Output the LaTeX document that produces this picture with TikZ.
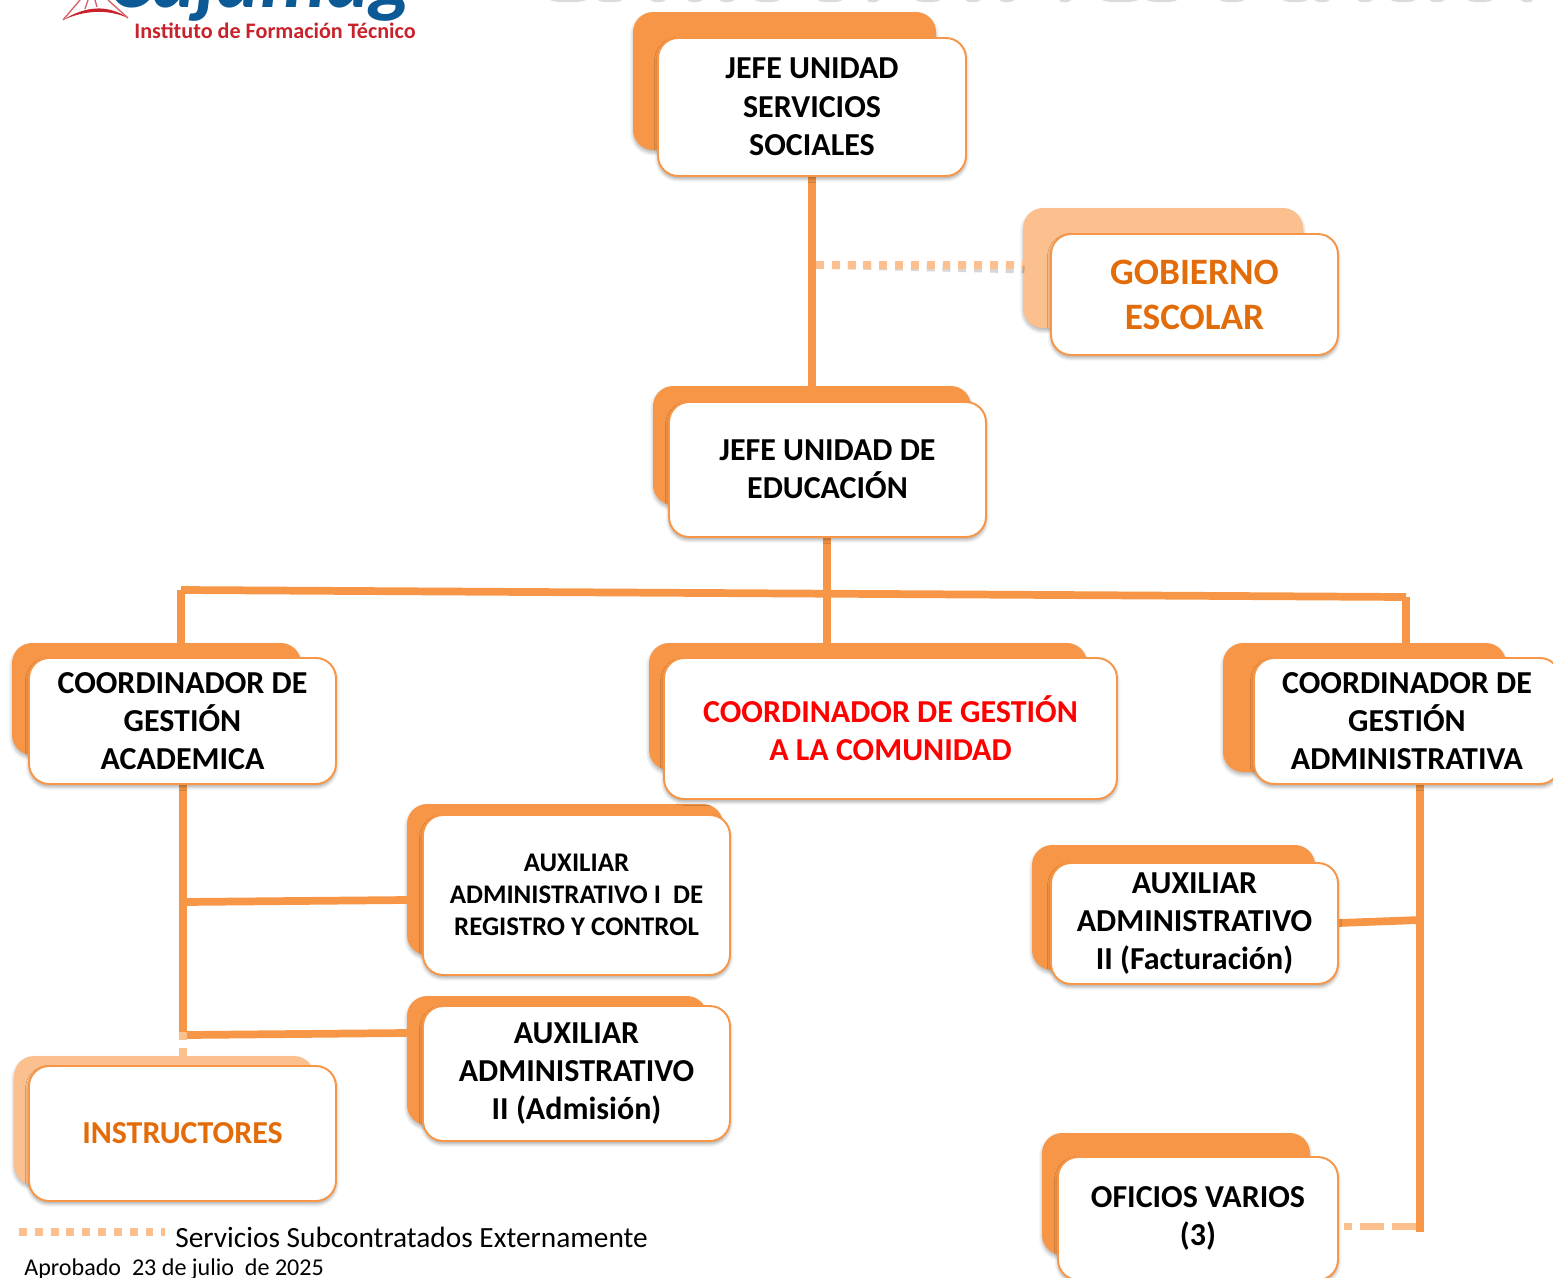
\documentclass[tikz,border=0pt]{standalone}
\usepackage{fontspec}
\setmainfont{Carlito}
\usetikzlibrary{shadows.blur}
\definecolor{linea}{HTML}{F79646}
\definecolor{claro}{HTML}{FBC08E}
\definecolor{naranja}{HTML}{E36C0A}
\definecolor{rojologo}{HTML}{C8232C}
\definecolor{azullogo}{HTML}{0B5A96}
\tikzset{
    cargo/.style={draw=linea, fill=white, rounded corners=11.5pt, line width=1.1pt, align=center,
        font=\fontsize{18.2}{21.8}\selectfont\bfseries, inner sep=0pt,
        blur shadow={shadow xshift=0pt, shadow yshift=-1.6pt, shadow blur radius=2pt, shadow opacity=35, shadow blur steps=6}},
    fondo/.style={fill=linea, rounded corners=11.5pt, inner sep=0pt,
        blur shadow={shadow xshift=0pt, shadow yshift=-1.6pt, shadow blur radius=2pt, shadow opacity=30, shadow blur steps=6}},
    fondoclaro/.style={fondo, fill=claro},
    enlace/.style={draw=linea, line width=4.4pt},
    externo/.style={draw=claro, line width=4.4pt, dash pattern=on 4.5pt off 4.5pt},
}
% caja de x1 y1 a x2 y2 en pixeles
\newcommand{\caja}[6][cargo]{\node[#1, minimum width=#4*0.2mm-#2*0.2mm, minimum height=#5*0.2mm-#3*0.2mm] (#6) at ({(#2+#4)/2},{(#3+#5)/2})}
\begin{document}
\begin{tikzpicture}[x=0.2mm, y=-0.2mm]
\useasboundingbox (0,0) rectangle (1553,1277);
\clip (0,0) rectangle (1553,1277);

% === ENCABEZADO ===
% restos del titulo cortado arriba
\foreach \x/\w in {568/35, 610/24, 658/14, 695/14, 727/14, 767/24, 830/24, 873/12, 928/24, 973/14, 1007/14,
        1065/12, 1120/35, 1162/30, 1232/24, 1295/24, 1322/14, 1365/14, 1403/24, 1437/14, 1480/24, 1527/12} {
    \fill[black!14] (\x,0) ellipse ({\w/2} and 2.2);
}
\node[text=azullogo, font=\fontsize{46.7}{46.7}\selectfont\bfseries\itshape, anchor=base east, inner sep=0pt] (marca) at (413,7) {Cajamag};
\node[text=rojologo, font=\fontsize{12.6}{12.6}\selectfont\bfseries] (instituto) at (275,31) {Instituto de Formación Técnico};
\fill[rojologo] (63,20) .. controls (85,6) and (108,4) .. (128,18) .. controls (108,9) and (85,10) .. (63,20) -- cycle;
\draw[rojologo!70, line width=0.8pt] (63,20) -- (80,0) (128,18) -- (108,0) (85,9) -- (88,0) (97,7) -- (95,0);

% === CAJAS DE FONDO ===
\caja[fondo]{633}{12}{936}{150}{fservicios} {};
\caja[fondoclaro]{1023}{208}{1303}{328}{fgobierno} {};
\caja[fondo]{653}{386}{971}{505}{feducacion} {};
\caja[fondo]{12}{643}{301}{755}{facademica} {};
\caja[fondo]{649}{643}{1087}{770}{fcomunidad} {};
\caja[fondo]{1223}{643}{1506}{772}{fadministrativa} {};
\caja[fondo]{407}{804}{723}{955}{fregistro} {};
\caja[fondo]{407}{996}{707}{1125}{fadmision} {};
\caja[fondo]{1032}{845}{1315}{970}{ffacturacion} {};
\caja[fondo]{1042}{1133}{1310}{1255}{foficios} {};
\caja[fondoclaro]{14}{1056}{314}{1185}{finstructores} {};

% === PUNTOS DE LOS CONECTORES ===
\coordinate (izq) at (181,590);
\coordinate (der) at (1406,597);
\coordinate (cruce) at (827,593.5);
\coordinate (ramagobierno) at (816,265);
\coordinate (ramaregistro) at (183,902);
\coordinate (ramaadmision) at (183,1032);
\coordinate (ramafacturacion) at (1420,920);
\coordinate (finadministrativa) at (1420,1232);
\coordinate (leyendaizq) at (19,1232);
\coordinate (leyendader) at (165,1232);

% === CONECTORES ===
\draw[externo, draw=black, opacity=0.16, xshift=0.3mm, yshift=-0.9mm] (ramagobierno) -- (1023,265);
\draw[externo] (ramagobierno) -- (1023,265);
\draw[externo] (ramaadmision) -- (183,1066);
\draw[externo, dash pattern=on 13.6pt off 4.5pt] (1416,1226.5) -- (1344,1226.5);
\draw[externo] (leyendaizq) -- (leyendader);
\draw[enlace] (812,176) -- (812,386);
\draw[enlace] (827,537) -- (cruce) -- (827,643);
\draw[enlace] (izq) -- (der);
\draw[enlace] (izq) -- (181,643);
\draw[enlace] (der) -- (1406,643);
\draw[enlace] (183,784) -- (ramaadmision);
\draw[enlace] (ramaregistro) -- (407,900);
\draw[enlace] (187,1035) -- (407,1033);
\draw[enlace] (1420,784) -- (finadministrativa);
\draw[enlace] (ramafacturacion) -- (1338,923);

% === CAJAS ===
\caja{658}{38}{966}{176}{servicios} {JEFE UNIDAD\\SERVICIOS\\SOCIALES};
\caja[cargo, text=naranja, font=\fontsize{21.2}{25.5}\selectfont\bfseries]{1051}{234}{1338}{355}{gobierno} {GOBIERNO\\ESCOLAR};
\caja{669}{402}{986}{537}{educacion} {JEFE UNIDAD DE\\EDUCACIÓN};
\caja{29}{658}{336}{784}{academica} {COORDINADOR DE\\GESTIÓN\\ACADEMICA};
\caja[cargo, text=red]{664}{658}{1117}{799}{comunidad} {COORDINADOR DE GESTIÓN\\A LA COMUNIDAD};
\caja{1254}{658}{1560}{784}{administrativa} {COORDINADOR DE\\GESTIÓN\\ADMINISTRATIVA};
\caja[cargo, font=\fontsize{15.3}{18.1}\selectfont\bfseries]{423}{815}{730}{975}{registro} {AUXILIAR\\ADMINISTRATIVO I\ \ DE\\REGISTRO Y CONTROL};
\caja{423}{1006}{730}{1141}{admision} {AUXILIAR\\ADMINISTRATIVO\\II (Admisión)};
\caja{1051}{863}{1338}{984}{facturacion} {AUXILIAR\\ADMINISTRATIVO\\II (Facturación)};
\caja{1058}{1157}{1338}{1280}{oficios} {OFICIOS VARIOS\\(3)};
\caja[cargo, text=naranja]{29}{1066}{336}{1201}{instructores} {INSTRUCTORES};

% === LEYENDA ===
\node[font=\fontsize{16.7}{16.7}\selectfont, anchor=west, inner sep=0pt] (leyenda) at (175,1237) {Servicios Subcontratados Externamente};
\node[font=\fontsize{13.7}{13.7}\selectfont, anchor=west, inner sep=0pt] (aprobado) at (24,1269) {Aprobado\ \ 23 de julio\ \ de 2025};
\end{tikzpicture}
\end{document}
